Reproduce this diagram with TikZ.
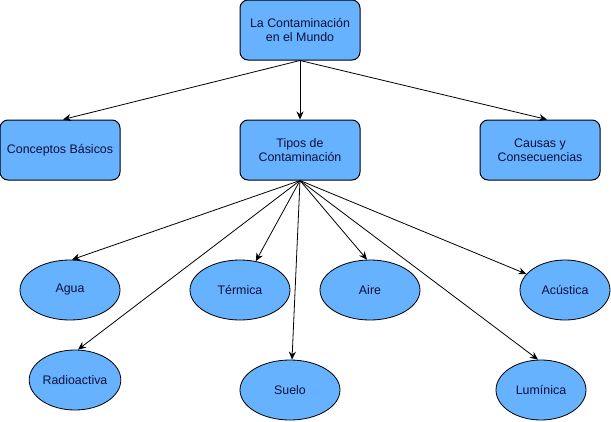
\documentclass[tikz,border=0pt]{standalone}
\usepackage{fontspec}
\setmainfont{Liberation Sans}
\usetikzlibrary{shapes.geometric,arrows.meta}
\definecolor{boxfill}{RGB}{102,178,255}
\definecolor{txt}{RGB}{15,15,60}
\begin{document}
\begin{tikzpicture}[x=1pt,y=-1pt,
  every node/.style={font=\fontsize{12.4}{14.5}\selectfont, text=txt, align=center},
  rbox/.style={draw=black, line width=1pt, fill=boxfill, rounded corners=8pt, minimum width=120pt, minimum height=60pt, inner sep=0pt},
  ell/.style={draw=black, line width=0.8pt, fill=boxfill, ellipse, inner sep=0pt, minimum height=60pt},
  conn/.style={draw=black, line width=0.8pt, -{Stealth[length=8pt,width=7pt]}}]
\useasboundingbox (0,0) rectangle (611,421);
\node[rbox] (top) at (300,30) {La Contaminación\\en el Mundo};
\node[rbox] (conc) at (60,150) {Conceptos Básicos};
\node[rbox] (tipos) at (300,150) {Tipos de\\Contaminación};
\node[rbox] (causas) at (540,150) {Causas y\\Consecuencias};
\node[ell, minimum width=100pt] (agua) at (70,290) {Agua};
\node[ell, minimum width=90pt] (radio) at (75,380) {Radioactiva};
\node[ell, minimum width=100pt] (term) at (240,290) {Térmica};
\node[ell, minimum width=100pt] (aire) at (370,290) {Aire};
\node[ell, minimum width=100pt] (suelo) at (290,390) {Suelo};
\node[ell, minimum width=90pt] (acus) at (565,290) {Acústica};
\node[ell, minimum width=90pt] (lum) at (541,390) {Lumínica};
\draw[conn] (top.south) -- ([xshift=3pt]conc.north);
\draw[conn] (top.south) -- (tipos.north);
\draw[conn] (top.south) -- ([xshift=7pt]causas.north);
\draw[conn] (tipos.south) -- ([xshift=2pt]agua.north);
\draw[conn] (tipos.south) -- ([xshift=3pt]radio.north);
\draw[conn] (tipos.south) -- (term);
\draw[conn] (tipos.south) -- ([xshift=-3pt]aire.north);
\draw[conn] (tipos.south) -- ([xshift=2pt]suelo.north);
\draw[conn] (tipos.south) -- (acus);
\draw[conn] (tipos.south) -- ([xshift=-3pt]lum.north);
\end{tikzpicture}
\end{document}
